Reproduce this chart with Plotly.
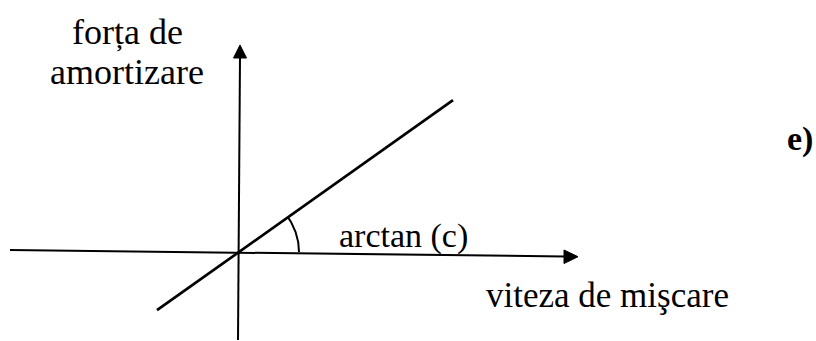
import numpy as np
import plotly.graph_objects as go

# Damping force proportional to velocity: F = c * v
c = 0.71
v_line = [-82, 214]                       # extent of the characteristic line
f_line = [c * v for v in v_line]

# Axes (origin at 0,0); the scanned axes are slightly skewed
h_axis_x = [-229, 326]
h_axis_y = [2.0, -4.5]
v_axis_x = [1.0, -1.0]
v_axis_y = [195, -88]

# Arrow heads: [tip, base-left, base-right]
h_head_x = [339, 325, 325]
h_head_y = [-4.7, 2.0, -11.5]
v_head_x = [1.0, -5.5, 7.5]
v_head_y = [207, 194, 194]

# Angle arc marking arctan(c)
arc_r = 60
theta = np.linspace(0, np.arctan(c), 40)
arc_x = arc_r * np.cos(theta)
arc_y = arc_r * np.sin(theta)

# text, x, y, bold, size
labels = [
    ("forța de", -111.5, 220, False, 36),
    ("amortizare", -112.5, 180, False, 36),
    ("arctan (c)", 164, 16.5, False, 34),
    ("viteza de mişcare", 368, -43, False, 35),
    ("e)", 561, 113, True, 34),
]

fig = go.Figure()

def line(x, y, w):
    fig.add_trace(go.Scatter(x=x, y=y, mode="lines",
                             line=dict(color="black", width=w),
                             hoverinfo="skip"))

def head(x, y):
    fig.add_trace(go.Scatter(x=x + [x[0]], y=y + [y[0]], mode="lines",
                             fill="toself", fillcolor="black",
                             line=dict(color="black", width=1),
                             hoverinfo="skip"))

line(h_axis_x, h_axis_y, 2)
line(v_axis_x, v_axis_y, 2)
head(h_head_x, h_head_y)
head(v_head_x, v_head_y)
line(v_line, f_line, 2.7)
line(list(arc_x), list(arc_y), 2)

for text, x, y, bold, size in labels:
    fig.add_annotation(
        x=x, y=y, text=f"<b>{text}</b>" if bold else text,
        showarrow=False, xanchor="center", yanchor="middle",
        font=dict(family="Liberation Serif", size=size, color="black"),
    )

fig.update_layout(
    width=816, height=341,
    margin=dict(l=0, r=0, t=0, b=0),
    paper_bgcolor="white", plot_bgcolor="white",
    showlegend=False,
    xaxis=dict(range=[-239, 577], visible=False, fixedrange=True),
    yaxis=dict(range=[-89, 252], visible=False, fixedrange=True),
)

fig.write_html("out.html", config={"displayModeBar": False})
